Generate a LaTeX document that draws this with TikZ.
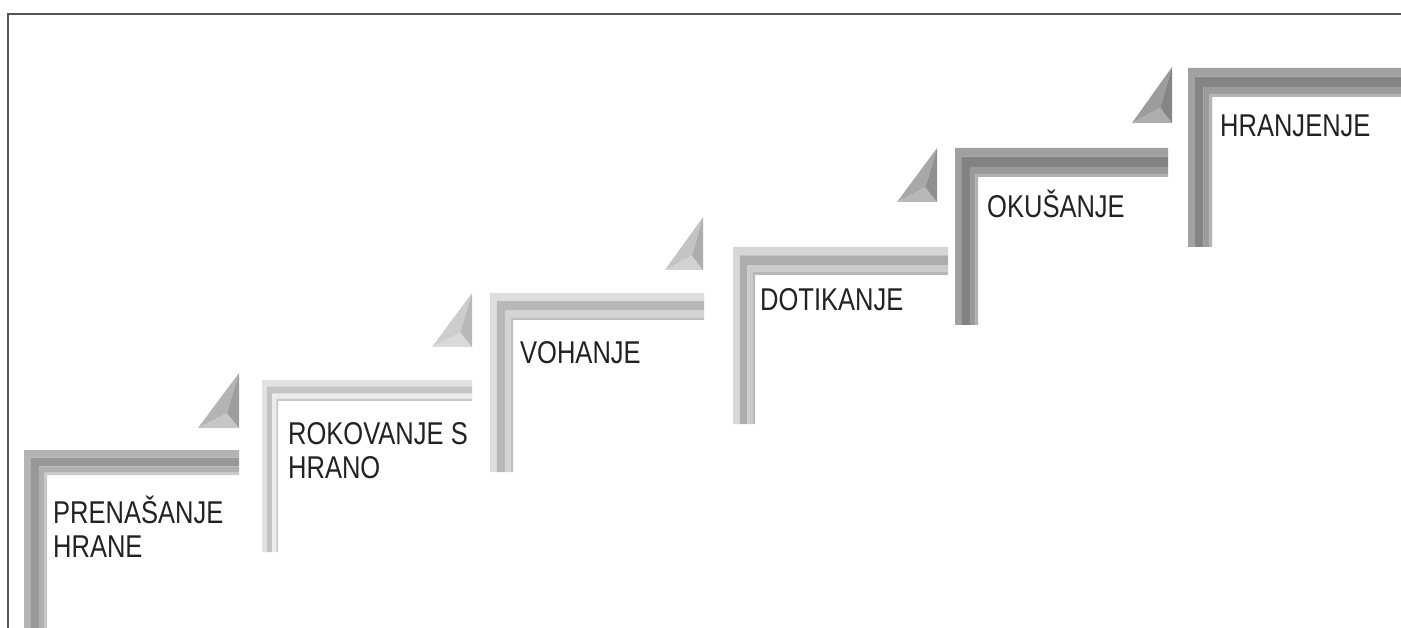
\documentclass[tikz,border=0pt]{standalone}
\usepackage{fontspec}
\setmainfont{Liberation Sans}[FakeStretch=0.81]
\definecolor{frame}{HTML}{555555}
\definecolor{txt}{HTML}{222222}
% step colours (bands: outer, middle, inner, inner edge)
\definecolor{s1a}{HTML}{B4B4B4}\definecolor{s1b}{HTML}{989898}\definecolor{s1c}{HTML}{B0B0B0}\definecolor{s1d}{HTML}{C8C8C8}
\definecolor{s2a}{HTML}{E2E2E2}\definecolor{s2b}{HTML}{C4C4C4}\definecolor{s2c}{HTML}{ECECEC}\definecolor{s2d}{HTML}{C8C8C8}
\definecolor{s3a}{HTML}{DEDEDE}\definecolor{s3b}{HTML}{B8B8B8}\definecolor{s3c}{HTML}{D4D4D4}\definecolor{s3d}{HTML}{C0C0C0}
\definecolor{s4a}{HTML}{D6D6D6}\definecolor{s4b}{HTML}{ADADAD}\definecolor{s4c}{HTML}{CCCCCC}\definecolor{s4d}{HTML}{B8B8B8}
\definecolor{s5a}{HTML}{A0A0A0}\definecolor{s5b}{HTML}{828282}\definecolor{s5c}{HTML}{9A9A9A}\definecolor{s5d}{HTML}{B0B0B0}
\definecolor{s6a}{HTML}{A2A2A2}\definecolor{s6b}{HTML}{858585}\definecolor{s6c}{HTML}{9C9C9C}\definecolor{s6d}{HTML}{B4B4B4}
% triangle colours (hypotenuse facet, bottom facet, right facet)
\definecolor{t1a}{HTML}{B4B4B4}\definecolor{t1b}{HTML}{C6C6C6}\definecolor{t1c}{HTML}{9E9E9E}
\definecolor{t2a}{HTML}{CDCDCD}\definecolor{t2b}{HTML}{DADADA}\definecolor{t2c}{HTML}{B8B8B8}
\definecolor{t3a}{HTML}{C4C4C4}\definecolor{t3b}{HTML}{D2D2D2}\definecolor{t3c}{HTML}{ADADAD}
\definecolor{t4a}{HTML}{A8A8A8}\definecolor{t4b}{HTML}{B8B8B8}\definecolor{t4c}{HTML}{909090}
\definecolor{t5a}{HTML}{9C9C9C}\definecolor{t5b}{HTML}{ADADAD}\definecolor{t5c}{HTML}{858585}
\newcommand\bandL[3]{%
  \fill[#3] (\Xe,{\Ya+#1*\Th}) -- ({\Xa+#1*\Tv},{\Ya+#1*\Th}) -- ({\Xa+#1*\Tv},\Yb)
    -- ({\Xa+#2*\Tv},\Yb) -- ({\Xa+#2*\Tv},{\Ya+#2*\Th}) -- (\Xe,{\Ya+#2*\Th}) -- cycle;}
\newcommand\stepbar[7]{%
  \def\Xa{#1}\def\Ya{#2}\def\Xe{#3}\def\Yb{#4}\def\Th{#5}\def\Tv{#6}%
  \bandL{0}{0.3}{#7a}\bandL{0.3}{0.65}{#7b}\bandL{0.65}{0.9}{#7c}\bandL{0.9}{1}{#7d}}
\newcommand\facet[5]{%
  \coordinate (P) at ({#1-0.29*(#1-#3)},{#4-0.27*(#4-#2)});
  \fill[#5a] (#1,#2) -- (#3,#4) -- (P) -- cycle;
  \fill[#5b] (#3,#4) -- (#1,#4) -- (P) -- cycle;
  \fill[#5c] (#1,#2) -- (P) -- (#1,#4) -- cycle;}
\begin{document}
\begin{tikzpicture}[x=1pt,y=-1pt,
  lbl/.style={anchor=base west, inner sep=0pt, align=left, text=txt,
    font=\fontsize{31.5}{34}\selectfont}]
\useasboundingbox (0,0) rectangle (1401,628);
\fill[white] (0,0) rectangle (1401,628);
% frame
\draw[line width=2, frame] (8,628) -- (8,14) -- (1401,14);
% steps
\stepbar{24}{450}{239}{628}{25}{23}{s1}
\stepbar{262}{380}{472}{552}{21}{16}{s2}
\stepbar{490}{293}{704}{472}{27}{23}{s3}
\stepbar{733}{247}{948}{424}{28}{22}{s4}
\stepbar{955}{148}{1168}{325}{29}{23}{s5}
\stepbar{1188}{68}{1401}{247}{29}{24}{s6}
% triangles
\facet{239}{373}{198}{428}{t1}
\facet{472}{293}{432}{347}{t2}
\facet{703}{217}{665}{270}{t3}
\facet{937}{148}{897}{202}{t4}
\facet{1172}{67}{1132}{123}{t5}
% labels (base anchor of a two-line node is the last line's baseline)
\node[lbl] (l1) at (53,557) {PRENAŠANJE\\HRANE};
\node[lbl] (l2) at (288,478) {ROKOVANJE S\\HRANO};
\node[lbl] (l3) at (520,363) {VOHANJE};
\node[lbl] (l4) at (760,311) {DOTIKANJE};
\node[lbl] (l5) at (987,218) {OKUŠANJE};
\node[lbl] (l6) at (1220,137) {HRANJENJE};
\end{tikzpicture}
\end{document}
